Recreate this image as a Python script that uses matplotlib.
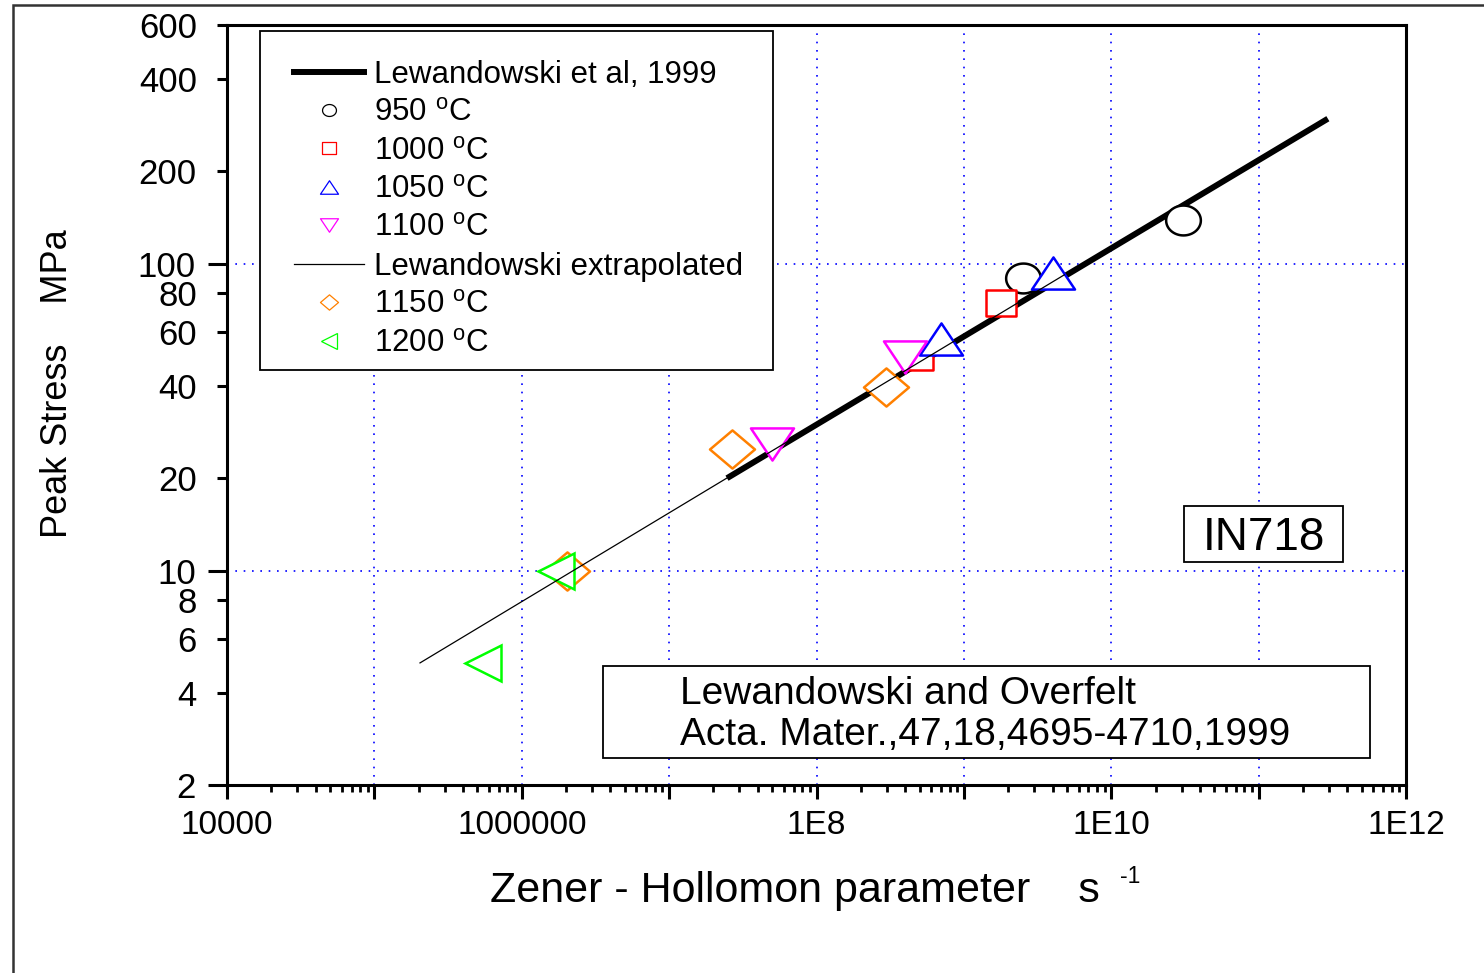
import numpy as np
import matplotlib
matplotlib.use("Agg")
import matplotlib.pyplot as plt
from matplotlib.path import Path
from matplotlib.patches import Rectangle
from matplotlib.lines import Line2D
from matplotlib.ticker import FixedLocator, FixedFormatter, LogLocator, NullFormatter

plt.rcParams['font.family'] = ['Liberation Sans', 'DejaVu Sans']
plt.rcParams['mathtext.fontset'] = 'custom'
plt.rcParams['mathtext.rm'] = 'Liberation Sans'
plt.rcParams['axes.unicode_minus'] = False

# Lewandowski fit lines
x_lew = [2.47e7, 2.95e11]
y_lew = [20.0, 297]
x_ext = [2.04e5, 4.8e9]
y_ext = [5.0, 92]

# peak stress data per temperature
x_950 = [2.5e9, 3.06e10]
y_950 = [90, 139]
x_1000 = [1.78e9, 4.9e8]
y_1000 = [74.6, 49.5]
x_1050 = [4.05e9, 7.0e8]
y_1050 = [93.4, 56.9]
x_1100 = [4.0e8, 5.0e7]
y_1100 = [49.7, 25.8]
x_1150 = [2.96e8, 2.65e7, 2.03e6]
y_1150 = [39.6, 24.9, 10.0]
x_1200 = [1.71e6, 5.5e5]
y_1200 = [10.0, 5.0]

y_major = [2, 10, 100]
y_minor = [4, 6, 8, 20, 40, 60, 80, 200, 400, 600]
x_major = [1e4, 1e5, 1e6, 1e7, 1e8, 1e9, 1e10, 1e11, 1e12]
x_labels = ['10000', '', '1000000', '', '1E8', '', '1E10', '', '1E12']

deg = '$^{\\mathregular{o}}$C'

# marker shapes (the original is slightly stretched horizontally)
th = np.linspace(0, 2 * np.pi, 73)
m_circ = Path(np.column_stack([np.cos(th), 0.86 * np.sin(th)]), closed=True)
m_sq = Path([(-1.15, -1), (1.15, -1), (1.15, 1), (-1.15, 1), (-1.15, -1)], closed=True)
m_up = Path([(0, 1), (-1.34, -1), (1.34, -1), (0, 1)], closed=True)
m_dn = Path([(0, -1), (-1.34, 1), (1.34, 1), (0, -1)], closed=True)
m_dia = Path([(0, 1), (1.18, 0), (0, -1), (-1.18, 0), (0, 1)], closed=True)

fig = plt.figure(figsize=(14.84, 9.73), dpi=100)
ax = fig.add_axes([227 / 1484, 1 - 785 / 973, 1179 / 1484, 760 / 973])
ax.set_xscale('log')
ax.set_yscale('log')
ax.set_xlim(1e4, 1e12)
ax.set_ylim(2, 600)

ax.plot(x_lew, y_lew, color='black', lw=4.3, solid_capstyle='butt', zorder=2)

mk = dict(ls='none', mfc='white', mew=1.8, zorder=3)
ax.plot(x_950, y_950, marker=m_circ, ms=25, mec='black', **mk)
ax.plot(x_1000, y_1000, marker=m_sq, ms=22.3, mec='#ff0000', **mk)
ax.plot(x_1050, y_1050, marker=m_up, ms=31, mec='#0000ff', **mk)
ax.plot(x_1100, y_1100, marker=m_dn, ms=31, mec='#ff00ff', **mk)
ax.plot(x_1150, y_1150, marker=m_dia, ms=32.4, mec='#ff8000', **mk)
ax.plot(x_1200, y_1200, marker='<', ms=26.6, mec='#00ff00', **mk)

ax.plot(x_ext, y_ext, color='black', lw=0.9, zorder=4)

# axes styling
for s in ax.spines.values():
    s.set_linewidth(2.2)
ax.xaxis.set_major_locator(FixedLocator(x_major))
ax.xaxis.set_major_formatter(FixedFormatter(x_labels))
ax.xaxis.set_minor_locator(LogLocator(base=10, subs=np.arange(2, 10), numticks=100))
ax.xaxis.set_minor_formatter(NullFormatter())
ax.yaxis.set_major_locator(FixedLocator(y_major))
ax.yaxis.set_major_formatter(FixedFormatter([str(v) for v in y_major]))
ax.yaxis.set_minor_locator(FixedLocator(y_minor))
ax.yaxis.set_minor_formatter(FixedFormatter([str(v) for v in y_minor]))

ax.tick_params(which='both', direction='out', width=2.2, colors='black')
ax.tick_params(axis='x', which='both', labelsize=24)
ax.tick_params(axis='y', which='both', labelsize=25)
ax.tick_params(axis='x', which='major', length=10, pad=8)
ax.tick_params(axis='x', which='minor', length=5, width=2)
ax.tick_params(axis='y', which='major', length=13.5, pad=9)
ax.tick_params(axis='y', which='minor', length=7.2, pad=14.5)

ax.grid(True, which='major', color='#0000ff', ls=(0, (1, 4)), lw=1.2)
ax.set_axisbelow(True)

ax.set_xlabel('Zener - Hollomon parameter    s', fontsize=31, va='center')
ax.xaxis.set_label_coords(0.4818, -0.14)
ax.text(0.7574, -0.129, '-1', transform=ax.transAxes, fontsize=16.5,
        ha='left', va='baseline')
ax.set_ylabel('Peak Stress    MPa', fontsize=26, va='center')
ax.yaxis.set_label_coords(-0.144, 0.528)

# legend frame + legend
ax.add_patch(Rectangle((0.028, 0.5461), 0.4351, 0.4461, transform=ax.transAxes,
                       fc='white', ec='black', lw=1.3, zorder=5))
hs = [
    Line2D([], [], color='black', lw=4.3),
    Line2D([], [], ls='none', marker=m_circ, ms=10, mfc='white', mec='black', mew=0.9),
    Line2D([], [], ls='none', marker=m_sq, ms=9.5, mfc='white', mec='#ff0000', mew=0.9),
    Line2D([], [], ls='none', marker=m_up, ms=13, mfc='white', mec='#0000ff', mew=0.9),
    Line2D([], [], ls='none', marker=m_dn, ms=13, mfc='white', mec='#ff00ff', mew=0.9),
    Line2D([], [], color='black', lw=0.9),
    Line2D([], [], ls='none', marker=m_dia, ms=13, mfc='white', mec='#ff8000', mew=0.9),
    Line2D([], [], ls='none', marker='<', ms=11, mfc='white', mec='#00ff00', mew=0.9),
]
labels = ['Lewandowski et al, 1999', '950 ' + deg, '1000 ' + deg, '1050 ' + deg,
          '1100 ' + deg, 'Lewandowski extrapolated', '1150 ' + deg, '1200 ' + deg]
leg = ax.legend(hs, labels, loc='upper left', bbox_to_anchor=(0.0344, 0.9895),
                frameon=False, fontsize=22.5, handlelength=2.24, handletextpad=0.32,
                borderpad=0.85, borderaxespad=0, labelspacing=0.27)
leg.set_zorder(6)

# IN718 box
ax.add_patch(Rectangle((0.8117, 0.2934), 0.1349, 0.0737, transform=ax.transAxes,
                       fc='white', ec='black', lw=1.3, zorder=5))
ax.text(0.8796, 0.3092, 'IN718', transform=ax.transAxes, fontsize=33,
        ha='center', va='baseline', zorder=6)

# reference box
ax.add_patch(Rectangle((0.3189, 0.0355), 0.6506, 0.1211, transform=ax.transAxes,
                       fc='white', ec='black', lw=1.3, zorder=5))
ax.text(0.3842, 0.1066, 'Lewandowski and Overfelt', transform=ax.transAxes,
        fontsize=28, ha='left', va='baseline', zorder=6)
ax.text(0.3842, 0.0526, 'Acta. Mater.,47,18,4695-4710,1999', transform=ax.transAxes,
        fontsize=28, ha='left', va='baseline', zorder=6)

# outer frame of the original figure
fig.add_artist(Rectangle((13 / 1484, -1), 2, 2 - 5 / 973, transform=fig.transFigure,
                         fill=False, ec='#333333', lw=1.8))

fig.savefig('out.png', dpi=100)
